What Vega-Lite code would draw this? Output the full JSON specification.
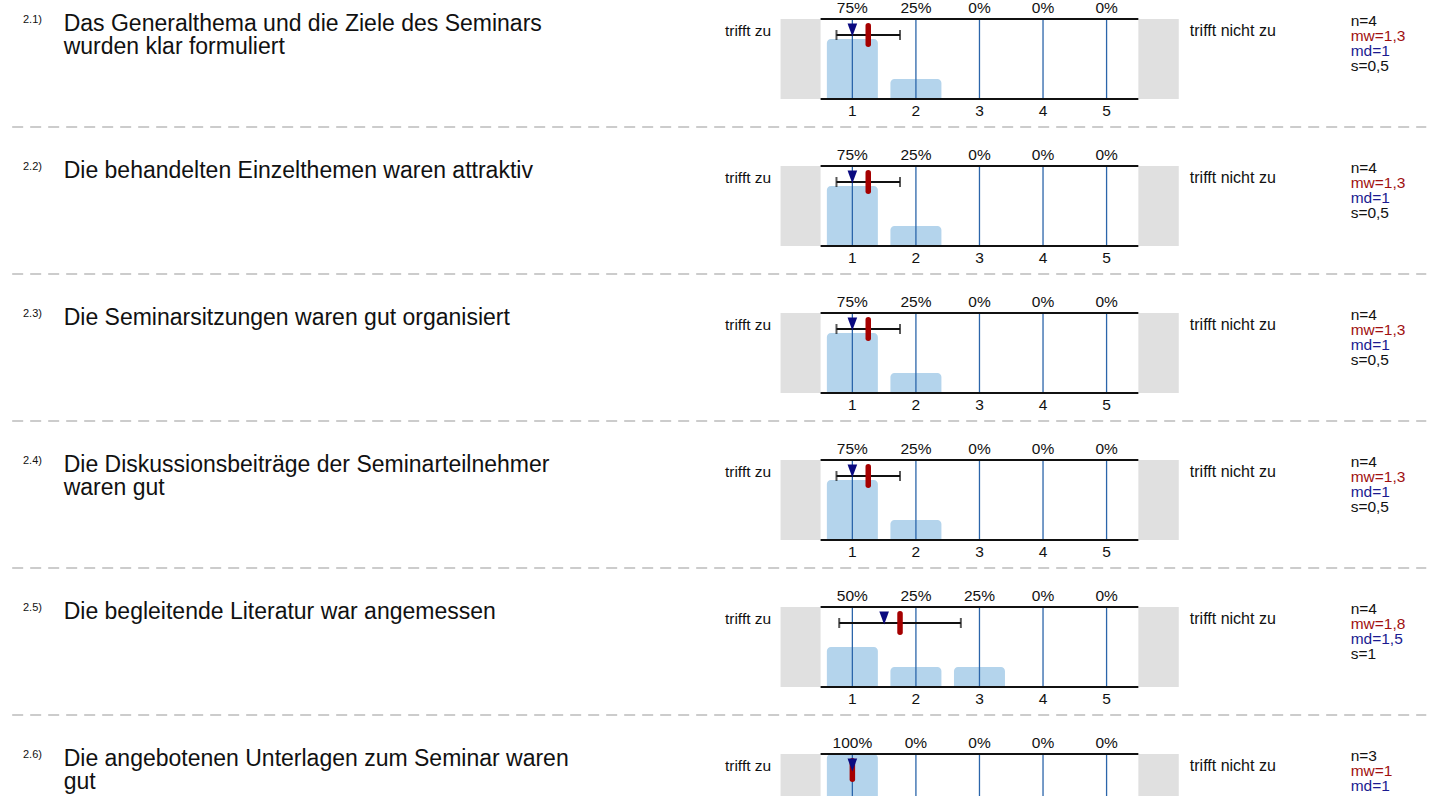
{
  "$schema": "https://vega.github.io/schema/vega-lite/v6.json",
  "padding": 0,
  "config": {
    "view": {"stroke": null},
    "axis": {"disable": true},
    "text": {"font": "Liberation Sans"}
  },
  "datasets": {
    "questions": [
      {"q": "2.1", "label": "2.1)", "text": "Das Generalthema und die Ziele des Seminars\nwurden klar formuliert", "n": 4, "mean": 1.25, "median": 1, "sd": 0.5, "nText": "n=4", "mwText": "mw=1,3", "mdText": "md=1", "sText": "s=0,5"},
      {"q": "2.2", "label": "2.2)", "text": "Die behandelten Einzelthemen waren attraktiv", "n": 4, "mean": 1.25, "median": 1, "sd": 0.5, "nText": "n=4", "mwText": "mw=1,3", "mdText": "md=1", "sText": "s=0,5"},
      {"q": "2.3", "label": "2.3)", "text": "Die Seminarsitzungen waren gut organisiert", "n": 4, "mean": 1.25, "median": 1, "sd": 0.5, "nText": "n=4", "mwText": "mw=1,3", "mdText": "md=1", "sText": "s=0,5"},
      {"q": "2.4", "label": "2.4)", "text": "Die Diskussionsbeiträge der Seminarteilnehmer\nwaren gut", "n": 4, "mean": 1.25, "median": 1, "sd": 0.5, "nText": "n=4", "mwText": "mw=1,3", "mdText": "md=1", "sText": "s=0,5"},
      {"q": "2.5", "label": "2.5)", "text": "Die begleitende Literatur war angemessen", "n": 4, "mean": 1.75, "median": 1.5, "sd": 0.957, "nText": "n=4", "mwText": "mw=1,8", "mdText": "md=1,5", "sText": "s=1"},
      {"q": "2.6", "label": "2.6)", "text": "Die angebotenen Unterlagen zum Seminar waren\ngut", "n": 3, "mean": 1, "median": 1, "sd": 0, "nText": "n=3", "mwText": "mw=1", "mdText": "md=1", "sText": "s=0"}
    ],
    "bars": [
      {"q": "2.1", "v": 1, "share": 0.75}, {"q": "2.1", "v": 2, "share": 0.25}, {"q": "2.1", "v": 3, "share": 0}, {"q": "2.1", "v": 4, "share": 0}, {"q": "2.1", "v": 5, "share": 0},
      {"q": "2.2", "v": 1, "share": 0.75}, {"q": "2.2", "v": 2, "share": 0.25}, {"q": "2.2", "v": 3, "share": 0}, {"q": "2.2", "v": 4, "share": 0}, {"q": "2.2", "v": 5, "share": 0},
      {"q": "2.3", "v": 1, "share": 0.75}, {"q": "2.3", "v": 2, "share": 0.25}, {"q": "2.3", "v": 3, "share": 0}, {"q": "2.3", "v": 4, "share": 0}, {"q": "2.3", "v": 5, "share": 0},
      {"q": "2.4", "v": 1, "share": 0.75}, {"q": "2.4", "v": 2, "share": 0.25}, {"q": "2.4", "v": 3, "share": 0}, {"q": "2.4", "v": 4, "share": 0}, {"q": "2.4", "v": 5, "share": 0},
      {"q": "2.5", "v": 1, "share": 0.5}, {"q": "2.5", "v": 2, "share": 0.25}, {"q": "2.5", "v": 3, "share": 0.25}, {"q": "2.5", "v": 4, "share": 0}, {"q": "2.5", "v": 5, "share": 0},
      {"q": "2.6", "v": 1, "share": 1}, {"q": "2.6", "v": 2, "share": 0}, {"q": "2.6", "v": 3, "share": 0}, {"q": "2.6", "v": 4, "share": 0}, {"q": "2.6", "v": 5, "share": 0}
    ]
  },
  "data": {"name": "bars"},
  "transform": [
    {"lookup": "q", "from": {"data": {"name": "questions"}, "key": "q", "fields": ["label", "text", "n", "mean", "median", "sd", "nText", "mwText", "mdText", "sText"]}}
  ],
  "facet": {"row": {"field": "q", "type": "nominal", "header": null, "sort": "ascending"}},
  "spacing": 0,
  "spec": {
    "width": 1431,
    "height": 147,
    "layer": [
      {
        "transform": [{"filter": "datum.v == 1"}],
        "mark": {"type": "rect", "color": "#e0e0e0"},
        "encoding": {
          "x": {"datum": -0.13, "type": "quantitative", "scale": {"domain": [-12.333, 10.026], "nice": false, "zero": false}},
          "x2": {"datum": 0.5},
          "y": {"datum": 0, "type": "quantitative", "scale": {"domain": [-0.6, 1.2375], "nice": false, "zero": false}},
          "y2": {"datum": 1}
        }
      },
      {
        "transform": [{"filter": "datum.v == 1"}],
        "mark": {"type": "rect", "color": "#e0e0e0"},
        "encoding": {
          "x": {"datum": 5.5, "type": "quantitative"},
          "x2": {"datum": 6.136},
          "y": {"datum": 0, "type": "quantitative"},
          "y2": {"datum": 1}
        }
      },
      {
        "transform": [{"filter": "datum.share > 0"}],
        "mark": {"type": "bar", "color": "#b4d4ec", "size": 51, "cornerRadiusTopLeft": 4, "cornerRadiusTopRight": 4},
        "encoding": {
          "x": {"field": "v", "type": "quantitative"},
          "y": {"field": "share", "type": "quantitative"},
          "y2": {"datum": 0}
        }
      },
      {
        "mark": {"type": "rule", "color": "#2b65aa", "strokeWidth": 1.3},
        "encoding": {
          "x": {"field": "v", "type": "quantitative"},
          "y": {"datum": 0, "type": "quantitative"},
          "y2": {"datum": 1}
        }
      },
      {
        "transform": [{"filter": "datum.v == 1"}],
        "mark": {"type": "rule", "color": "#111111", "strokeWidth": 2},
        "encoding": {
          "x": {"datum": 0.5, "type": "quantitative"},
          "x2": {"datum": 5.5},
          "y": {"datum": 1, "type": "quantitative"}
        }
      },
      {
        "transform": [{"filter": "datum.v == 1"}],
        "mark": {"type": "rule", "color": "#111111", "strokeWidth": 2},
        "encoding": {
          "x": {"datum": 0.5, "type": "quantitative"},
          "x2": {"datum": 5.5},
          "y": {"datum": 0, "type": "quantitative"}
        }
      },
      {
        "transform": [{"filter": "datum.v == 1"}],
        "mark": {"type": "errorbar", "color": "#111111", "rule": {"strokeWidth": 2}, "ticks": {"size": 10, "thickness": 2}},
        "encoding": {
          "x": {"field": "mean", "type": "quantitative"},
          "xError": {"field": "sd"},
          "y": {"datum": 0.8, "type": "quantitative"}
        }
      },
      {
        "transform": [{"filter": "datum.v == 1"}],
        "mark": {"type": "rule", "color": "#a50000", "strokeWidth": 5.5, "strokeCap": "round"},
        "encoding": {
          "x": {"field": "mean", "type": "quantitative"},
          "y": {"datum": 0.915, "type": "quantitative"},
          "y2": {"datum": 0.685}
        }
      },
      {
        "transform": [{"filter": "datum.v == 1"}],
        "mark": {"type": "point", "shape": "M-0.75,-1L0.75,-1L0,1Z", "filled": true, "opacity": 1, "size": 165, "color": "#0a0a80"},
        "encoding": {
          "x": {"field": "median", "type": "quantitative"},
          "y": {"datum": 0.862, "type": "quantitative"}
        }
      },
      {
        "mark": {"type": "text", "fontSize": 15.5, "color": "#111111", "baseline": "middle", "align": "center"},
        "encoding": {
          "x": {"field": "v", "type": "quantitative"},
          "y": {"datum": 1.135, "type": "quantitative"},
          "text": {"field": "share", "type": "quantitative", "format": ".0%"}
        }
      },
      {
        "mark": {"type": "text", "fontSize": 15.5, "color": "#111111", "baseline": "middle", "align": "center"},
        "encoding": {
          "x": {"field": "v", "type": "quantitative"},
          "y": {"datum": -0.15, "type": "quantitative"},
          "text": {"field": "v", "type": "quantitative", "format": "d"}
        }
      },
      {
        "transform": [{"filter": "datum.v == 1"}],
        "mark": {"type": "text", "fontSize": 11, "color": "#111111", "baseline": "middle", "align": "left"},
        "encoding": {
          "x": {"datum": -12.05, "type": "quantitative"},
          "y": {"datum": 0.99, "type": "quantitative"},
          "text": {"field": "label"}
        }
      },
      {
        "transform": [{"filter": "datum.v == 1"}],
        "mark": {"type": "text", "fontSize": 23, "color": "#111111", "baseline": "top", "align": "left", "lineBreak": "\n", "lineHeight": 23},
        "encoding": {
          "x": {"datum": -11.41, "type": "quantitative"},
          "y": {"datum": 1.075, "type": "quantitative"},
          "text": {"field": "text"}
        }
      },
      {
        "transform": [{"filter": "datum.v == 1"}],
        "mark": {"type": "text", "fontSize": 15.5, "color": "#111111", "baseline": "middle", "align": "left", "text": "trifft zu"},
        "encoding": {
          "x": {"datum": -1.005, "type": "quantitative"},
          "y": {"datum": 0.85, "type": "quantitative"}
        }
      },
      {
        "transform": [{"filter": "datum.v == 1"}],
        "mark": {"type": "text", "fontSize": 16, "color": "#111111", "baseline": "middle", "align": "left", "text": "trifft nicht zu"},
        "encoding": {
          "x": {"datum": 6.31, "type": "quantitative"},
          "y": {"datum": 0.85, "type": "quantitative"}
        }
      },
      {
        "transform": [{"filter": "datum.v == 1"}],
        "mark": {"type": "text", "fontSize": 15.5, "color": "#111111", "baseline": "middle", "align": "left"},
        "encoding": {
          "x": {"datum": 8.84, "type": "quantitative"},
          "y": {"datum": 0.97, "type": "quantitative"},
          "text": {"field": "nText"}
        }
      },
      {
        "transform": [{"filter": "datum.v == 1"}],
        "mark": {"type": "text", "fontSize": 15.5, "color": "#a01010", "baseline": "middle", "align": "left"},
        "encoding": {
          "x": {"datum": 8.84, "type": "quantitative"},
          "y": {"datum": 0.7825, "type": "quantitative"},
          "text": {"field": "mwText"}
        }
      },
      {
        "transform": [{"filter": "datum.v == 1"}],
        "mark": {"type": "text", "fontSize": 15.5, "color": "#1a1a90", "baseline": "middle", "align": "left"},
        "encoding": {
          "x": {"datum": 8.84, "type": "quantitative"},
          "y": {"datum": 0.595, "type": "quantitative"},
          "text": {"field": "mdText"}
        }
      },
      {
        "transform": [{"filter": "datum.v == 1"}],
        "mark": {"type": "text", "fontSize": 15.5, "color": "#111111", "baseline": "middle", "align": "left"},
        "encoding": {
          "x": {"datum": 8.84, "type": "quantitative"},
          "y": {"datum": 0.4075, "type": "quantitative"},
          "text": {"field": "sText"}
        }
      },
      {
        "transform": [{"filter": "datum.v == 1"}],
        "mark": {"type": "rule", "color": "#999999", "strokeWidth": 1.2, "strokeDash": [11, 7]},
        "encoding": {
          "x": {"datum": -12.22, "type": "quantitative"},
          "x2": {"datum": 10.03},
          "y": {"datum": -0.35, "type": "quantitative"}
        }
      }
    ]
  }
}
